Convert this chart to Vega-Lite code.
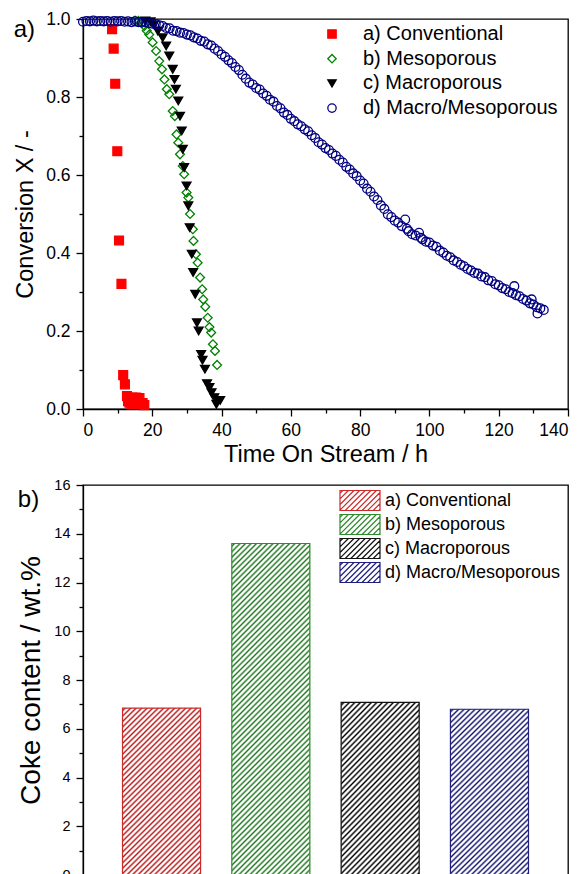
{
"$schema": "https://vega.github.io/schema/vega-lite/v6.json",
"padding": {"left": 13, "top": 9, "right": 0, "bottom": 0},
"bounds": "flush",
"spacing": 76,
"resolve": {"scale": {"fill": "independent", "stroke": "independent", "shape": "independent"}, "legend": {"fill": "independent", "stroke": "independent", "shape": "independent"}},
"config": {
  "font": "Liberation Sans",
  "view": {"stroke": "black", "strokeWidth": 1.3},
  "axis": {"domainColor": "black", "tickColor": "black", "labelColor": "black", "titleColor": "black", "domainWidth": 1.3, "tickWidth": 1.3, "grid": false, "titleFontWeight": "normal", "labelFont": "Liberation Sans", "titleFont": "Liberation Sans", "labelOverlap": false},
  "legend": {"labelFont": "Liberation Sans", "labelColor": "black", "labelLimit": 400},
  "title": {"font": "Liberation Sans", "fontWeight": "normal", "color": "black"}
},
"vconcat": [
{
  "width": 485, "height": 390,
  "title": {"text": "a)", "anchor": "start", "frame": "bounds", "fontSize": 24, "offset": 0, "dy": 32},
  "data": {"values": [
    {"s":"a) Conventional","t":8.4,"X":0.974},{"s":"a) Conventional","t":8.85,"X":0.924},{"s":"a) Conventional","t":9.3,"X":0.834},{"s":"a) Conventional","t":9.9,"X":0.661},{"s":"a) Conventional","t":10.4,"X":0.432},{"s":"a) Conventional","t":11.1,"X":0.321},{"s":"a) Conventional","t":11.6,"X":0.087},{"s":"a) Conventional","t":12.1,"X":0.063},{"s":"a) Conventional","t":12.7,"X":0.033},{"s":"a) Conventional","t":13.0,"X":0.02},{"s":"a) Conventional","t":13.4,"X":0.016},{"s":"a) Conventional","t":14.0,"X":0.012},{"s":"a) Conventional","t":14.3,"X":0.029},{"s":"a) Conventional","t":15.0,"X":0.022},{"s":"a) Conventional","t":15.3,"X":0.029},{"s":"a) Conventional","t":15.8,"X":0.02},{"s":"a) Conventional","t":16.3,"X":0.028},{"s":"a) Conventional","t":16.7,"X":0.012},{"s":"a) Conventional","t":17.2,"X":0.015},{"s":"a) Conventional","t":17.7,"X":0.010},
    {"s":"b) Mesoporous","t":15,"X":0.996},{"s":"b) Mesoporous","t":16,"X":0.995},{"s":"b) Mesoporous","t":17,"X":0.99},{"s":"b) Mesoporous","t":17.7,"X":0.982},{"s":"b) Mesoporous","t":18.4,"X":0.97},{"s":"b) Mesoporous","t":19.1,"X":0.96},{"s":"b) Mesoporous","t":20.1,"X":0.94},{"s":"b) Mesoporous","t":21.1,"X":0.918},{"s":"b) Mesoporous","t":22.0,"X":0.892},{"s":"b) Mesoporous","t":22.8,"X":0.871},{"s":"b) Mesoporous","t":23.5,"X":0.845},{"s":"b) Mesoporous","t":24.2,"X":0.82},{"s":"b) Mesoporous","t":24.9,"X":0.807},{"s":"b) Mesoporous","t":25.9,"X":0.764},{"s":"b) Mesoporous","t":26.5,"X":0.751},{"s":"b) Mesoporous","t":27.0,"X":0.704},{"s":"b) Mesoporous","t":27.5,"X":0.683},{"s":"b) Mesoporous","t":28.0,"X":0.653},{"s":"b) Mesoporous","t":28.8,"X":0.623},{"s":"b) Mesoporous","t":29.2,"X":0.602},{"s":"b) Mesoporous","t":29.9,"X":0.555},{"s":"b) Mesoporous","t":30.4,"X":0.542},{"s":"b) Mesoporous","t":30.9,"X":0.5},{"s":"b) Mesoporous","t":31.7,"X":0.461},{"s":"b) Mesoporous","t":31.9,"X":0.431},{"s":"b) Mesoporous","t":32.6,"X":0.397},{"s":"b) Mesoporous","t":33.1,"X":0.375},{"s":"b) Mesoporous","t":33.8,"X":0.337},{"s":"b) Mesoporous","t":34.4,"X":0.307},{"s":"b) Mesoporous","t":34.7,"X":0.281},{"s":"b) Mesoporous","t":35.3,"X":0.262},{"s":"b) Mesoporous","t":36.0,"X":0.234},{"s":"b) Mesoporous","t":36.5,"X":0.21},{"s":"b) Mesoporous","t":37.0,"X":0.196},{"s":"b) Mesoporous","t":37.5,"X":0.166},{"s":"b) Mesoporous","t":38.1,"X":0.149},{"s":"b) Mesoporous","t":38.7,"X":0.113},
    {"s":"c) Macroporous","t":18,"X":0.995},{"s":"c) Macroporous","t":19.5,"X":0.993},{"s":"c) Macroporous","t":20.5,"X":0.985},{"s":"c) Macroporous","t":21.6,"X":0.969},{"s":"c) Macroporous","t":23.0,"X":0.952},{"s":"c) Macroporous","t":24.0,"X":0.931},{"s":"c) Macroporous","t":24.9,"X":0.905},{"s":"c) Macroporous","t":25.9,"X":0.871},{"s":"c) Macroporous","t":26.4,"X":0.845},{"s":"c) Macroporous","t":26.8,"X":0.82},{"s":"c) Macroporous","t":27.5,"X":0.79},{"s":"c) Macroporous","t":28.0,"X":0.751},{"s":"c) Macroporous","t":28.5,"X":0.713},{"s":"c) Macroporous","t":28.8,"X":0.666},{"s":"c) Macroporous","t":29.2,"X":0.619},{"s":"c) Macroporous","t":29.9,"X":0.572},{"s":"c) Macroporous","t":30.4,"X":0.521},{"s":"c) Macroporous","t":30.8,"X":0.465},{"s":"c) Macroporous","t":31.4,"X":0.397},{"s":"c) Macroporous","t":31.8,"X":0.35},{"s":"c) Macroporous","t":32.4,"X":0.294},{"s":"c) Macroporous","t":32.9,"X":0.221},{"s":"c) Macroporous","t":33.4,"X":0.2},{"s":"c) Macroporous","t":34.1,"X":0.14},{"s":"c) Macroporous","t":34.5,"X":0.125},{"s":"c) Macroporous","t":35.2,"X":0.102},{"s":"c) Macroporous","t":35.8,"X":0.065},{"s":"c) Macroporous","t":36.5,"X":0.055},{"s":"c) Macroporous","t":37.1,"X":0.042},{"s":"c) Macroporous","t":37.9,"X":0.029},{"s":"c) Macroporous","t":38.5,"X":0.012},{"s":"c) Macroporous","t":38.9,"X":0.021},{"s":"c) Macroporous","t":39.6,"X":0.022},
    {"s":"d) Macro/Mesoporous","t":0,"X":0.993},{"s":"d) Macro/Mesoporous","t":1,"X":0.995},{"s":"d) Macro/Mesoporous","t":2,"X":0.994},{"s":"d) Macro/Mesoporous","t":3,"X":0.996},{"s":"d) Macro/Mesoporous","t":4,"X":0.994},{"s":"d) Macro/Mesoporous","t":5,"X":0.995},{"s":"d) Macro/Mesoporous","t":6,"X":0.994},{"s":"d) Macro/Mesoporous","t":7,"X":0.995},{"s":"d) Macro/Mesoporous","t":8,"X":0.993},{"s":"d) Macro/Mesoporous","t":9,"X":0.995},{"s":"d) Macro/Mesoporous","t":10,"X":0.994},{"s":"d) Macro/Mesoporous","t":11,"X":0.995},{"s":"d) Macro/Mesoporous","t":12,"X":0.993},{"s":"d) Macro/Mesoporous","t":13,"X":0.994},{"s":"d) Macro/Mesoporous","t":14,"X":0.992},{"s":"d) Macro/Mesoporous","t":15,"X":0.994},{"s":"d) Macro/Mesoporous","t":16,"X":0.992},{"s":"d) Macro/Mesoporous","t":17,"X":0.991},{"s":"d) Macro/Mesoporous","t":18,"X":0.992},{"s":"d) Macro/Mesoporous","t":19,"X":0.989},
    {"s":"d) Macro/Mesoporous","t":20,"X":0.988},{"s":"d) Macro/Mesoporous","t":21,"X":0.987},{"s":"d) Macro/Mesoporous","t":22,"X":0.984},{"s":"d) Macro/Mesoporous","t":23,"X":0.982},{"s":"d) Macro/Mesoporous","t":24,"X":0.977},{"s":"d) Macro/Mesoporous","t":25,"X":0.976},{"s":"d) Macro/Mesoporous","t":26,"X":0.97},{"s":"d) Macro/Mesoporous","t":27,"X":0.969},{"s":"d) Macro/Mesoporous","t":28,"X":0.965},{"s":"d) Macro/Mesoporous","t":29,"X":0.964},{"s":"d) Macro/Mesoporous","t":30,"X":0.96},{"s":"d) Macro/Mesoporous","t":31,"X":0.958},{"s":"d) Macro/Mesoporous","t":32,"X":0.953},{"s":"d) Macro/Mesoporous","t":33,"X":0.95},{"s":"d) Macro/Mesoporous","t":34,"X":0.944},{"s":"d) Macro/Mesoporous","t":35,"X":0.942},{"s":"d) Macro/Mesoporous","t":36,"X":0.935},{"s":"d) Macro/Mesoporous","t":37,"X":0.932},{"s":"d) Macro/Mesoporous","t":38,"X":0.924},{"s":"d) Macro/Mesoporous","t":39,"X":0.918},
    {"s":"d) Macro/Mesoporous","t":40,"X":0.909},{"s":"d) Macro/Mesoporous","t":41,"X":0.903},{"s":"d) Macro/Mesoporous","t":42,"X":0.894},{"s":"d) Macro/Mesoporous","t":43,"X":0.887},{"s":"d) Macro/Mesoporous","t":44,"X":0.877},{"s":"d) Macro/Mesoporous","t":45,"X":0.869},{"s":"d) Macro/Mesoporous","t":46,"X":0.857},{"s":"d) Macro/Mesoporous","t":47,"X":0.847},{"s":"d) Macro/Mesoporous","t":48,"X":0.837},{"s":"d) Macro/Mesoporous","t":49,"X":0.832},{"s":"d) Macro/Mesoporous","t":50,"X":0.823},{"s":"d) Macro/Mesoporous","t":51,"X":0.819},{"s":"d) Macro/Mesoporous","t":52,"X":0.809},{"s":"d) Macro/Mesoporous","t":53,"X":0.803},{"s":"d) Macro/Mesoporous","t":54,"X":0.793},{"s":"d) Macro/Mesoporous","t":55,"X":0.788},{"s":"d) Macro/Mesoporous","t":56,"X":0.777},{"s":"d) Macro/Mesoporous","t":57,"X":0.771},{"s":"d) Macro/Mesoporous","t":58,"X":0.76},{"s":"d) Macro/Mesoporous","t":59,"X":0.754},
    {"s":"d) Macro/Mesoporous","t":60,"X":0.744},{"s":"d) Macro/Mesoporous","t":61,"X":0.738},{"s":"d) Macro/Mesoporous","t":62,"X":0.73},{"s":"d) Macro/Mesoporous","t":63,"X":0.725},{"s":"d) Macro/Mesoporous","t":64,"X":0.717},{"s":"d) Macro/Mesoporous","t":65,"X":0.712},{"s":"d) Macro/Mesoporous","t":66,"X":0.702},{"s":"d) Macro/Mesoporous","t":67,"X":0.695},{"s":"d) Macro/Mesoporous","t":68,"X":0.684},{"s":"d) Macro/Mesoporous","t":69,"X":0.678},{"s":"d) Macro/Mesoporous","t":70,"X":0.669},{"s":"d) Macro/Mesoporous","t":71,"X":0.664},{"s":"d) Macro/Mesoporous","t":72,"X":0.655},{"s":"d) Macro/Mesoporous","t":73,"X":0.649},{"s":"d) Macro/Mesoporous","t":74,"X":0.639},{"s":"d) Macro/Mesoporous","t":75,"X":0.632},{"s":"d) Macro/Mesoporous","t":76,"X":0.621},{"s":"d) Macro/Mesoporous","t":77,"X":0.614},{"s":"d) Macro/Mesoporous","t":78,"X":0.604},{"s":"d) Macro/Mesoporous","t":79,"X":0.597},
    {"s":"d) Macro/Mesoporous","t":80,"X":0.586},{"s":"d) Macro/Mesoporous","t":81,"X":0.578},{"s":"d) Macro/Mesoporous","t":82,"X":0.565},{"s":"d) Macro/Mesoporous","t":83,"X":0.557},{"s":"d) Macro/Mesoporous","t":84,"X":0.545},{"s":"d) Macro/Mesoporous","t":85,"X":0.536},{"s":"d) Macro/Mesoporous","t":86,"X":0.522},{"s":"d) Macro/Mesoporous","t":87,"X":0.513},{"s":"d) Macro/Mesoporous","t":88,"X":0.499},{"s":"d) Macro/Mesoporous","t":89,"X":0.492},{"s":"d) Macro/Mesoporous","t":90,"X":0.483},{"s":"d) Macro/Mesoporous","t":91,"X":0.478},{"s":"d) Macro/Mesoporous","t":92,"X":0.469},{"s":"d) Macro/Mesoporous","t":93,"X":0.486},{"s":"d) Macro/Mesoporous","t":93.5,"X":0.462},{"s":"d) Macro/Mesoporous","t":94,"X":0.456},{"s":"d) Macro/Mesoporous","t":95,"X":0.448},{"s":"d) Macro/Mesoporous","t":96,"X":0.445},{"s":"d) Macro/Mesoporous","t":97,"X":0.452},{"s":"d) Macro/Mesoporous","t":97.5,"X":0.439},{"s":"d) Macro/Mesoporous","t":98,"X":0.435},{"s":"d) Macro/Mesoporous","t":99,"X":0.429},
    {"s":"d) Macro/Mesoporous","t":100,"X":0.427},{"s":"d) Macro/Mesoporous","t":101,"X":0.419},{"s":"d) Macro/Mesoporous","t":102,"X":0.416},{"s":"d) Macro/Mesoporous","t":103,"X":0.406},{"s":"d) Macro/Mesoporous","t":104,"X":0.401},{"s":"d) Macro/Mesoporous","t":105,"X":0.393},{"s":"d) Macro/Mesoporous","t":106,"X":0.389},{"s":"d) Macro/Mesoporous","t":107,"X":0.381},{"s":"d) Macro/Mesoporous","t":108,"X":0.377},{"s":"d) Macro/Mesoporous","t":109,"X":0.37},{"s":"d) Macro/Mesoporous","t":110,"X":0.366},{"s":"d) Macro/Mesoporous","t":111,"X":0.359},{"s":"d) Macro/Mesoporous","t":112,"X":0.355},{"s":"d) Macro/Mesoporous","t":113,"X":0.349},{"s":"d) Macro/Mesoporous","t":114,"X":0.347},{"s":"d) Macro/Mesoporous","t":115,"X":0.34},{"s":"d) Macro/Mesoporous","t":116,"X":0.338},{"s":"d) Macro/Mesoporous","t":117,"X":0.33},{"s":"d) Macro/Mesoporous","t":118,"X":0.328},{"s":"d) Macro/Mesoporous","t":119,"X":0.32},
    {"s":"d) Macro/Mesoporous","t":120,"X":0.317},{"s":"d) Macro/Mesoporous","t":121,"X":0.31},{"s":"d) Macro/Mesoporous","t":122,"X":0.307},{"s":"d) Macro/Mesoporous","t":123,"X":0.3},{"s":"d) Macro/Mesoporous","t":124,"X":0.297},{"s":"d) Macro/Mesoporous","t":124.5,"X":0.315},{"s":"d) Macro/Mesoporous","t":125,"X":0.292},{"s":"d) Macro/Mesoporous","t":126,"X":0.289},{"s":"d) Macro/Mesoporous","t":127,"X":0.282},{"s":"d) Macro/Mesoporous","t":128,"X":0.278},{"s":"d) Macro/Mesoporous","t":129,"X":0.271},{"s":"d) Macro/Mesoporous","t":129.5,"X":0.281},{"s":"d) Macro/Mesoporous","t":130,"X":0.268},{"s":"d) Macro/Mesoporous","t":131,"X":0.261},{"s":"d) Macro/Mesoporous","t":131.2,"X":0.245},{"s":"d) Macro/Mesoporous","t":132,"X":0.258},{"s":"d) Macro/Mesoporous","t":133,"X":0.254}
  ]},
  "mark": {"type": "point", "size": 78, "strokeWidth": 1.3, "opacity": 1},
  "encoding": {
    "x": {"field": "t", "type": "quantitative", "scale": {"domain": [0, 140], "nice": false},
      "axis": {"title": "Time On Stream / h", "values": [0,10,20,30,40,50,60,70,80,90,100,110,120,130,140],
        "labelExpr": "datum.value % 20 == 0 ? datum.label : ''",
        "tickSize": {"condition": {"test": "datum.value % 20 == 0", "value": 7}, "value": 4},
        "labelFontSize": 17.5, "titleFontSize": 23.5, "labelPadding": 5, "titlePadding": 4}},
    "y": {"field": "X", "type": "quantitative", "scale": {"domain": [0, 1], "nice": false},
      "axis": {"title": "Conversion X / -", "values": [0,0.1,0.2,0.3,0.4,0.5,0.6,0.7,0.8,0.9,1.0], "format": ".1f",
        "labelExpr": "round(datum.value*10) % 2 == 0 ? datum.label : ''",
        "tickSize": {"condition": {"test": "round(datum.value*10) % 2 == 0", "value": 7}, "value": 4},
        "labelFontSize": 17.5, "titleFontSize": 23.5, "labelPadding": 6, "titlePadding": 8}},
    "shape": {"field": "s", "type": "nominal",
      "scale": {"domain": ["a) Conventional","b) Mesoporous","c) Macroporous","d) Macro/Mesoporous"], "range": ["square","diamond","triangle-down","circle"]},
      "legend": {"orient": "none", "legendX": 239, "legendY": 5, "title": null, "labelFontSize": 20, "labelOffset": 21, "rowPadding": 4.7, "symbolStrokeWidth": 1.3, "symbolSize": 70, "padding": 0}},
    "fill": {"field": "s", "type": "nominal",
      "scale": {"domain": ["a) Conventional","b) Mesoporous","c) Macroporous","d) Macro/Mesoporous"], "range": ["#ff0000","transparent","#000000","transparent"]},
      "legend": {"orient": "none", "legendX": 239, "legendY": 5, "title": null, "labelFontSize": 20, "labelOffset": 21, "rowPadding": 4.7, "symbolStrokeWidth": 1.3, "symbolSize": 70, "padding": 0}},
    "stroke": {"field": "s", "type": "nominal",
      "scale": {"domain": ["a) Conventional","b) Mesoporous","c) Macroporous","d) Macro/Mesoporous"], "range": ["#ff0000","#008000","#000000","#000080"]},
      "legend": {"orient": "none", "legendX": 239, "legendY": 5, "title": null, "labelFontSize": 20, "labelOffset": 21, "rowPadding": 4.7, "symbolStrokeWidth": 1.3, "symbolSize": 70, "padding": 0}}
  }
},
{
  "width": 485, "height": 390,
  "title": {"text": "b)", "anchor": "start", "frame": "bounds", "fontSize": 24, "offset": 0, "dy": 35},
  "data": {"values": [
    {"c": "a) Conventional", "coke": 6.85},
    {"c": "b) Mesoporous", "coke": 13.6},
    {"c": "c) Macroporous", "coke": 7.08},
    {"c": "d) Macro/Mesoporous", "coke": 6.8}
  ]},
  "encoding": {
    "x": {"field": "c", "type": "nominal", "sort": null, "scale": {"paddingInner": 0.286, "paddingOuter": 0.3615}, "axis": null},
    "y": {"field": "coke", "type": "quantitative", "scale": {"domain": [0, 16], "nice": false},
      "axis": {"title": "Coke content / wt.%", "values": [0,1,2,3,4,5,6,7,8,9,10,11,12,13,14,15,16],
        "labelExpr": "datum.value % 2 == 0 ? datum.label : ''",
        "tickSize": {"condition": {"test": "datum.value % 2 == 0", "value": 7}, "value": 4},
        "labelFontSize": 14.5, "titleFontSize": 28, "labelPadding": 6, "titlePadding": 8}}
  },
  "layer": [
    {"mark": {"type": "bar"},
     "encoding": {"fill": {"field": "c", "type": "nominal", "scale": {"range": ["#b81818","#1c761c","#000000","#14146e"]}, "legend": null}}},
    {"transform": [{"filter": "datum.c != 'b) Mesoporous'"}],
     "mark": {"type": "bar", "strokeWidth": 1.2, "fill": {"gradient": "linear", "x1": 0, "y1": 0, "x2": 0.5696, "y2": 1.2341, "stops": [
{"offset":0.0029,"color":"#fff"},{"offset":0.0109,"color":"#fff0"},{"offset":0.0189,"color":"#fff"},
{"offset":0.0246,"color":"#fff"},{"offset":0.0326,"color":"#fff0"},{"offset":0.0406,"color":"#fff"},
{"offset":0.0463,"color":"#fff"},{"offset":0.0543,"color":"#fff0"},{"offset":0.0623,"color":"#fff"},
{"offset":0.0681,"color":"#fff"},{"offset":0.0761,"color":"#fff0"},{"offset":0.0841,"color":"#fff"},
{"offset":0.0898,"color":"#fff"},{"offset":0.0978,"color":"#fff0"},{"offset":0.1058,"color":"#fff"},
{"offset":0.1116,"color":"#fff"},{"offset":0.1196,"color":"#fff0"},{"offset":0.1276,"color":"#fff"},
{"offset":0.1333,"color":"#fff"},{"offset":0.1413,"color":"#fff0"},{"offset":0.1493,"color":"#fff"},
{"offset":0.1550,"color":"#fff"},{"offset":0.1630,"color":"#fff0"},{"offset":0.1710,"color":"#fff"},
{"offset":0.1768,"color":"#fff"},{"offset":0.1848,"color":"#fff0"},{"offset":0.1928,"color":"#fff"},
{"offset":0.1985,"color":"#fff"},{"offset":0.2065,"color":"#fff0"},{"offset":0.2145,"color":"#fff"},
{"offset":0.2203,"color":"#fff"},{"offset":0.2283,"color":"#fff0"},{"offset":0.2363,"color":"#fff"},
{"offset":0.2420,"color":"#fff"},{"offset":0.2500,"color":"#fff0"},{"offset":0.2580,"color":"#fff"},
{"offset":0.2637,"color":"#fff"},{"offset":0.2717,"color":"#fff0"},{"offset":0.2797,"color":"#fff"},
{"offset":0.2855,"color":"#fff"},{"offset":0.2935,"color":"#fff0"},{"offset":0.3015,"color":"#fff"},
{"offset":0.3072,"color":"#fff"},{"offset":0.3152,"color":"#fff0"},{"offset":0.3232,"color":"#fff"},
{"offset":0.3290,"color":"#fff"},{"offset":0.3370,"color":"#fff0"},{"offset":0.3450,"color":"#fff"},
{"offset":0.3507,"color":"#fff"},{"offset":0.3587,"color":"#fff0"},{"offset":0.3667,"color":"#fff"},
{"offset":0.3724,"color":"#fff"},{"offset":0.3804,"color":"#fff0"},{"offset":0.3884,"color":"#fff"},
{"offset":0.3942,"color":"#fff"},{"offset":0.4022,"color":"#fff0"},{"offset":0.4102,"color":"#fff"},
{"offset":0.4159,"color":"#fff"},{"offset":0.4239,"color":"#fff0"},{"offset":0.4319,"color":"#fff"},
{"offset":0.4377,"color":"#fff"},{"offset":0.4457,"color":"#fff0"},{"offset":0.4537,"color":"#fff"},
{"offset":0.4594,"color":"#fff"},{"offset":0.4674,"color":"#fff0"},{"offset":0.4754,"color":"#fff"},
{"offset":0.4811,"color":"#fff"},{"offset":0.4891,"color":"#fff0"},{"offset":0.4971,"color":"#fff"},
{"offset":0.5029,"color":"#fff"},{"offset":0.5109,"color":"#fff0"},{"offset":0.5189,"color":"#fff"},
{"offset":0.5246,"color":"#fff"},{"offset":0.5326,"color":"#fff0"},{"offset":0.5406,"color":"#fff"},
{"offset":0.5463,"color":"#fff"},{"offset":0.5543,"color":"#fff0"},{"offset":0.5623,"color":"#fff"},
{"offset":0.5681,"color":"#fff"},{"offset":0.5761,"color":"#fff0"},{"offset":0.5841,"color":"#fff"},
{"offset":0.5898,"color":"#fff"},{"offset":0.5978,"color":"#fff0"},{"offset":0.6058,"color":"#fff"},
{"offset":0.6116,"color":"#fff"},{"offset":0.6196,"color":"#fff0"},{"offset":0.6276,"color":"#fff"},
{"offset":0.6333,"color":"#fff"},{"offset":0.6413,"color":"#fff0"},{"offset":0.6493,"color":"#fff"},
{"offset":0.6550,"color":"#fff"},{"offset":0.6630,"color":"#fff0"},{"offset":0.6710,"color":"#fff"},
{"offset":0.6768,"color":"#fff"},{"offset":0.6848,"color":"#fff0"},{"offset":0.6928,"color":"#fff"},
{"offset":0.6985,"color":"#fff"},{"offset":0.7065,"color":"#fff0"},{"offset":0.7145,"color":"#fff"},
{"offset":0.7203,"color":"#fff"},{"offset":0.7283,"color":"#fff0"},{"offset":0.7363,"color":"#fff"},
{"offset":0.7420,"color":"#fff"},{"offset":0.7500,"color":"#fff0"},{"offset":0.7580,"color":"#fff"},
{"offset":0.7637,"color":"#fff"},{"offset":0.7717,"color":"#fff0"},{"offset":0.7797,"color":"#fff"},
{"offset":0.7855,"color":"#fff"},{"offset":0.7935,"color":"#fff0"},{"offset":0.8015,"color":"#fff"},
{"offset":0.8072,"color":"#fff"},{"offset":0.8152,"color":"#fff0"},{"offset":0.8232,"color":"#fff"},
{"offset":0.8290,"color":"#fff"},{"offset":0.8370,"color":"#fff0"},{"offset":0.8450,"color":"#fff"},
{"offset":0.8507,"color":"#fff"},{"offset":0.8587,"color":"#fff0"},{"offset":0.8667,"color":"#fff"},
{"offset":0.8724,"color":"#fff"},{"offset":0.8804,"color":"#fff0"},{"offset":0.8884,"color":"#fff"},
{"offset":0.8942,"color":"#fff"},{"offset":0.9022,"color":"#fff0"},{"offset":0.9102,"color":"#fff"},
{"offset":0.9159,"color":"#fff"},{"offset":0.9239,"color":"#fff0"},{"offset":0.9319,"color":"#fff"},
{"offset":0.9377,"color":"#fff"},{"offset":0.9457,"color":"#fff0"},{"offset":0.9537,"color":"#fff"},
{"offset":0.9594,"color":"#fff"},{"offset":0.9674,"color":"#fff0"},{"offset":0.9754,"color":"#fff"},
{"offset":0.9811,"color":"#fff"},{"offset":0.9891,"color":"#fff0"},{"offset":0.9971,"color":"#fff"}
     ]}},
     "encoding": {"stroke": {"field": "c", "type": "nominal",
       "scale": {"domain": ["a) Conventional","b) Mesoporous","c) Macroporous","d) Macro/Mesoporous"], "range": ["#cc2a2a","#2e8b2e","#111111","#1f1f80"]},
       "legend": {"orient": "none", "legendX": 266, "legendY": 4.5, "title": null, "labelFontSize": 18, "labelOffset": 14, "rowPadding": -4.4, "padding": 0,
         "symbolType": "M-2,-1H2V1H-2Z M-2,-0.72L-1.72,-1 M-2,-0.16L-1.16,-1 M-2,0.4L-0.6,-1 M-2,0.96L-0.04,-1 M-1.48,1L0.52,-1 M-0.92,1L1.08,-1 M-0.36,1L1.64,-1 M0.2,1L2,-0.8 M0.76,1L2,-0.24 M1.32,1L2,0.32 M1.88,1L2,0.88",
         "symbolSize": 400, "symbolStrokeWidth": 1.2, "symbolFillColor": "transparent"}}}},
    {"transform": [{"filter": "datum.c == 'b) Mesoporous'"}],
     "mark": {"type": "bar", "strokeWidth": 1.2, "fill": {"gradient": "linear", "x1": 0, "y1": 0, "x2": 0.2774, "y2": 1.1791, "stops": [
{"offset":0.0019,"color":"#fff"},{"offset":0.0067,"color":"#fff0"},{"offset":0.0115,"color":"#fff"},
{"offset":0.0152,"color":"#fff"},{"offset":0.0200,"color":"#fff0"},{"offset":0.0248,"color":"#fff"},
{"offset":0.0285,"color":"#fff"},{"offset":0.0333,"color":"#fff0"},{"offset":0.0381,"color":"#fff"},
{"offset":0.0419,"color":"#fff"},{"offset":0.0467,"color":"#fff0"},{"offset":0.0515,"color":"#fff"},
{"offset":0.0552,"color":"#fff"},{"offset":0.0600,"color":"#fff0"},{"offset":0.0648,"color":"#fff"},
{"offset":0.0685,"color":"#fff"},{"offset":0.0733,"color":"#fff0"},{"offset":0.0781,"color":"#fff"},
{"offset":0.0819,"color":"#fff"},{"offset":0.0867,"color":"#fff0"},{"offset":0.0915,"color":"#fff"},
{"offset":0.0952,"color":"#fff"},{"offset":0.1000,"color":"#fff0"},{"offset":0.1048,"color":"#fff"},
{"offset":0.1085,"color":"#fff"},{"offset":0.1133,"color":"#fff0"},{"offset":0.1181,"color":"#fff"},
{"offset":0.1219,"color":"#fff"},{"offset":0.1267,"color":"#fff0"},{"offset":0.1315,"color":"#fff"},
{"offset":0.1352,"color":"#fff"},{"offset":0.1400,"color":"#fff0"},{"offset":0.1448,"color":"#fff"},
{"offset":0.1485,"color":"#fff"},{"offset":0.1533,"color":"#fff0"},{"offset":0.1581,"color":"#fff"},
{"offset":0.1619,"color":"#fff"},{"offset":0.1667,"color":"#fff0"},{"offset":0.1715,"color":"#fff"},
{"offset":0.1752,"color":"#fff"},{"offset":0.1800,"color":"#fff0"},{"offset":0.1848,"color":"#fff"},
{"offset":0.1885,"color":"#fff"},{"offset":0.1933,"color":"#fff0"},{"offset":0.1981,"color":"#fff"},
{"offset":0.2019,"color":"#fff"},{"offset":0.2067,"color":"#fff0"},{"offset":0.2115,"color":"#fff"},
{"offset":0.2152,"color":"#fff"},{"offset":0.2200,"color":"#fff0"},{"offset":0.2248,"color":"#fff"},
{"offset":0.2285,"color":"#fff"},{"offset":0.2333,"color":"#fff0"},{"offset":0.2381,"color":"#fff"},
{"offset":0.2419,"color":"#fff"},{"offset":0.2467,"color":"#fff0"},{"offset":0.2515,"color":"#fff"},
{"offset":0.2552,"color":"#fff"},{"offset":0.2600,"color":"#fff0"},{"offset":0.2648,"color":"#fff"},
{"offset":0.2685,"color":"#fff"},{"offset":0.2733,"color":"#fff0"},{"offset":0.2781,"color":"#fff"},
{"offset":0.2819,"color":"#fff"},{"offset":0.2867,"color":"#fff0"},{"offset":0.2915,"color":"#fff"},
{"offset":0.2952,"color":"#fff"},{"offset":0.3000,"color":"#fff0"},{"offset":0.3048,"color":"#fff"},
{"offset":0.3085,"color":"#fff"},{"offset":0.3133,"color":"#fff0"},{"offset":0.3181,"color":"#fff"},
{"offset":0.3219,"color":"#fff"},{"offset":0.3267,"color":"#fff0"},{"offset":0.3315,"color":"#fff"},
{"offset":0.3352,"color":"#fff"},{"offset":0.3400,"color":"#fff0"},{"offset":0.3448,"color":"#fff"},
{"offset":0.3485,"color":"#fff"},{"offset":0.3533,"color":"#fff0"},{"offset":0.3581,"color":"#fff"},
{"offset":0.3619,"color":"#fff"},{"offset":0.3667,"color":"#fff0"},{"offset":0.3715,"color":"#fff"},
{"offset":0.3752,"color":"#fff"},{"offset":0.3800,"color":"#fff0"},{"offset":0.3848,"color":"#fff"},
{"offset":0.3885,"color":"#fff"},{"offset":0.3933,"color":"#fff0"},{"offset":0.3981,"color":"#fff"},
{"offset":0.4019,"color":"#fff"},{"offset":0.4067,"color":"#fff0"},{"offset":0.4115,"color":"#fff"},
{"offset":0.4152,"color":"#fff"},{"offset":0.4200,"color":"#fff0"},{"offset":0.4248,"color":"#fff"},
{"offset":0.4285,"color":"#fff"},{"offset":0.4333,"color":"#fff0"},{"offset":0.4381,"color":"#fff"},
{"offset":0.4419,"color":"#fff"},{"offset":0.4467,"color":"#fff0"},{"offset":0.4515,"color":"#fff"},
{"offset":0.4552,"color":"#fff"},{"offset":0.4600,"color":"#fff0"},{"offset":0.4648,"color":"#fff"},
{"offset":0.4685,"color":"#fff"},{"offset":0.4733,"color":"#fff0"},{"offset":0.4781,"color":"#fff"},
{"offset":0.4819,"color":"#fff"},{"offset":0.4867,"color":"#fff0"},{"offset":0.4915,"color":"#fff"},
{"offset":0.4952,"color":"#fff"},{"offset":0.5000,"color":"#fff0"},{"offset":0.5048,"color":"#fff"},
{"offset":0.5085,"color":"#fff"},{"offset":0.5133,"color":"#fff0"},{"offset":0.5181,"color":"#fff"},
{"offset":0.5219,"color":"#fff"},{"offset":0.5267,"color":"#fff0"},{"offset":0.5315,"color":"#fff"},
{"offset":0.5352,"color":"#fff"},{"offset":0.5400,"color":"#fff0"},{"offset":0.5448,"color":"#fff"},
{"offset":0.5485,"color":"#fff"},{"offset":0.5533,"color":"#fff0"},{"offset":0.5581,"color":"#fff"},
{"offset":0.5619,"color":"#fff"},{"offset":0.5667,"color":"#fff0"},{"offset":0.5715,"color":"#fff"},
{"offset":0.5752,"color":"#fff"},{"offset":0.5800,"color":"#fff0"},{"offset":0.5848,"color":"#fff"},
{"offset":0.5885,"color":"#fff"},{"offset":0.5933,"color":"#fff0"},{"offset":0.5981,"color":"#fff"},
{"offset":0.6019,"color":"#fff"},{"offset":0.6067,"color":"#fff0"},{"offset":0.6115,"color":"#fff"},
{"offset":0.6152,"color":"#fff"},{"offset":0.6200,"color":"#fff0"},{"offset":0.6248,"color":"#fff"},
{"offset":0.6285,"color":"#fff"},{"offset":0.6333,"color":"#fff0"},{"offset":0.6381,"color":"#fff"},
{"offset":0.6419,"color":"#fff"},{"offset":0.6467,"color":"#fff0"},{"offset":0.6515,"color":"#fff"},
{"offset":0.6552,"color":"#fff"},{"offset":0.6600,"color":"#fff0"},{"offset":0.6648,"color":"#fff"},
{"offset":0.6685,"color":"#fff"},{"offset":0.6733,"color":"#fff0"},{"offset":0.6781,"color":"#fff"},
{"offset":0.6819,"color":"#fff"},{"offset":0.6867,"color":"#fff0"},{"offset":0.6915,"color":"#fff"},
{"offset":0.6952,"color":"#fff"},{"offset":0.7000,"color":"#fff0"},{"offset":0.7048,"color":"#fff"},
{"offset":0.7085,"color":"#fff"},{"offset":0.7133,"color":"#fff0"},{"offset":0.7181,"color":"#fff"},
{"offset":0.7219,"color":"#fff"},{"offset":0.7267,"color":"#fff0"},{"offset":0.7315,"color":"#fff"},
{"offset":0.7352,"color":"#fff"},{"offset":0.7400,"color":"#fff0"},{"offset":0.7448,"color":"#fff"},
{"offset":0.7485,"color":"#fff"},{"offset":0.7533,"color":"#fff0"},{"offset":0.7581,"color":"#fff"},
{"offset":0.7619,"color":"#fff"},{"offset":0.7667,"color":"#fff0"},{"offset":0.7715,"color":"#fff"},
{"offset":0.7752,"color":"#fff"},{"offset":0.7800,"color":"#fff0"},{"offset":0.7848,"color":"#fff"},
{"offset":0.7885,"color":"#fff"},{"offset":0.7933,"color":"#fff0"},{"offset":0.7981,"color":"#fff"},
{"offset":0.8019,"color":"#fff"},{"offset":0.8067,"color":"#fff0"},{"offset":0.8115,"color":"#fff"},
{"offset":0.8152,"color":"#fff"},{"offset":0.8200,"color":"#fff0"},{"offset":0.8248,"color":"#fff"},
{"offset":0.8285,"color":"#fff"},{"offset":0.8333,"color":"#fff0"},{"offset":0.8381,"color":"#fff"},
{"offset":0.8419,"color":"#fff"},{"offset":0.8467,"color":"#fff0"},{"offset":0.8515,"color":"#fff"},
{"offset":0.8552,"color":"#fff"},{"offset":0.8600,"color":"#fff0"},{"offset":0.8648,"color":"#fff"},
{"offset":0.8685,"color":"#fff"},{"offset":0.8733,"color":"#fff0"},{"offset":0.8781,"color":"#fff"},
{"offset":0.8819,"color":"#fff"},{"offset":0.8867,"color":"#fff0"},{"offset":0.8915,"color":"#fff"},
{"offset":0.8952,"color":"#fff"},{"offset":0.9000,"color":"#fff0"},{"offset":0.9048,"color":"#fff"},
{"offset":0.9085,"color":"#fff"},{"offset":0.9133,"color":"#fff0"},{"offset":0.9181,"color":"#fff"},
{"offset":0.9219,"color":"#fff"},{"offset":0.9267,"color":"#fff0"},{"offset":0.9315,"color":"#fff"},
{"offset":0.9352,"color":"#fff"},{"offset":0.9400,"color":"#fff0"},{"offset":0.9448,"color":"#fff"},
{"offset":0.9485,"color":"#fff"},{"offset":0.9533,"color":"#fff0"},{"offset":0.9581,"color":"#fff"},
{"offset":0.9619,"color":"#fff"},{"offset":0.9667,"color":"#fff0"},{"offset":0.9715,"color":"#fff"},
{"offset":0.9752,"color":"#fff"},{"offset":0.9800,"color":"#fff0"},{"offset":0.9848,"color":"#fff"},
{"offset":0.9885,"color":"#fff"},{"offset":0.9933,"color":"#fff0"},{"offset":0.9981,"color":"#fff"}
     ]}},
     "encoding": {"stroke": {"field": "c", "type": "nominal",
       "scale": {"domain": ["a) Conventional","b) Mesoporous","c) Macroporous","d) Macro/Mesoporous"], "range": ["#cc2a2a","#2e8b2e","#111111","#1f1f80"]},
       "legend": {"orient": "none", "legendX": 266, "legendY": 4.5, "title": null, "labelFontSize": 18, "labelOffset": 14, "rowPadding": -4.4, "padding": 0,
         "symbolType": "M-2,-1H2V1H-2Z M-2,-0.72L-1.72,-1 M-2,-0.16L-1.16,-1 M-2,0.4L-0.6,-1 M-2,0.96L-0.04,-1 M-1.48,1L0.52,-1 M-0.92,1L1.08,-1 M-0.36,1L1.64,-1 M0.2,1L2,-0.8 M0.76,1L2,-0.24 M1.32,1L2,0.32 M1.88,1L2,0.88",
         "symbolSize": 400, "symbolStrokeWidth": 1.2, "symbolFillColor": "transparent"}}}}
  ]
}
]
}
